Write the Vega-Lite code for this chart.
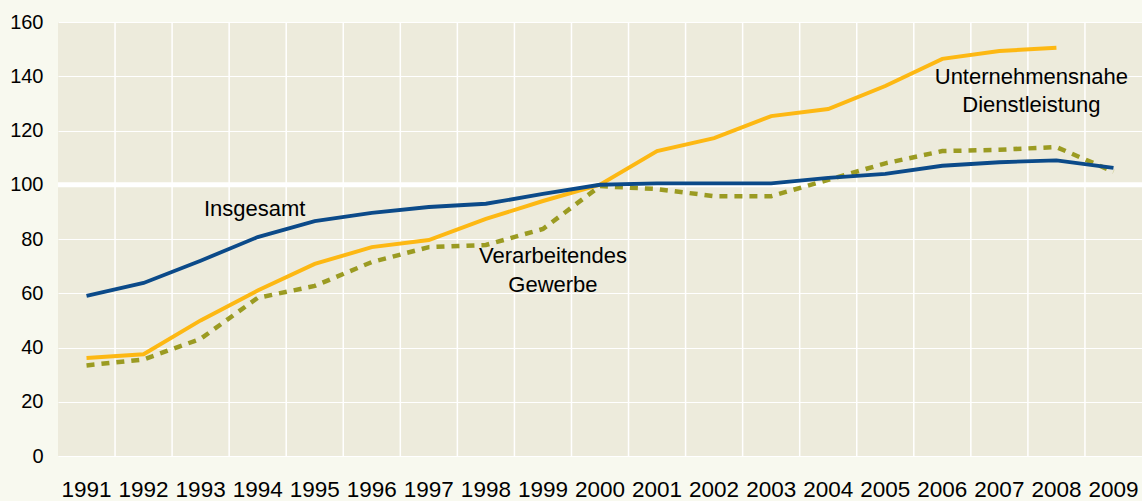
{
  "$schema": "https://vega.github.io/schema/vega-lite/v6.json",
  "width": 1084,
  "height": 434,
  "autosize": "none",
  "padding": {"left": 58, "top": 22, "right": 0, "bottom": 45},
  "background": "#f8f9ef",
  "config": {"view": {"fill": "#edebdc", "stroke": null}, "font": "Liberation Sans"},
  "datasets": {
    "series": [
      {"series": "Insgesamt", "year": 1991, "value": 59},
      {"series": "Insgesamt", "year": 1992, "value": 63.8},
      {"series": "Insgesamt", "year": 1993, "value": 72},
      {"series": "Insgesamt", "year": 1994, "value": 80.7},
      {"series": "Insgesamt", "year": 1995, "value": 86.6},
      {"series": "Insgesamt", "year": 1996, "value": 89.6},
      {"series": "Insgesamt", "year": 1997, "value": 91.8},
      {"series": "Insgesamt", "year": 1998, "value": 93},
      {"series": "Insgesamt", "year": 1999, "value": 96.6},
      {"series": "Insgesamt", "year": 2000, "value": 100},
      {"series": "Insgesamt", "year": 2001, "value": 100.5},
      {"series": "Insgesamt", "year": 2002, "value": 100.5},
      {"series": "Insgesamt", "year": 2003, "value": 100.5},
      {"series": "Insgesamt", "year": 2004, "value": 102.5},
      {"series": "Insgesamt", "year": 2005, "value": 104},
      {"series": "Insgesamt", "year": 2006, "value": 107},
      {"series": "Insgesamt", "year": 2007, "value": 108.3},
      {"series": "Insgesamt", "year": 2008, "value": 109},
      {"series": "Insgesamt", "year": 2009, "value": 106.2},
      {"series": "Unternehmensnahe Dienstleistung", "year": 1991, "value": 36.1},
      {"series": "Unternehmensnahe Dienstleistung", "year": 1992, "value": 37.5},
      {"series": "Unternehmensnahe Dienstleistung", "year": 1993, "value": 50},
      {"series": "Unternehmensnahe Dienstleistung", "year": 1994, "value": 61},
      {"series": "Unternehmensnahe Dienstleistung", "year": 1995, "value": 70.8},
      {"series": "Unternehmensnahe Dienstleistung", "year": 1996, "value": 77},
      {"series": "Unternehmensnahe Dienstleistung", "year": 1997, "value": 79.6},
      {"series": "Unternehmensnahe Dienstleistung", "year": 1998, "value": 87.4},
      {"series": "Unternehmensnahe Dienstleistung", "year": 1999, "value": 94},
      {"series": "Unternehmensnahe Dienstleistung", "year": 2000, "value": 100},
      {"series": "Unternehmensnahe Dienstleistung", "year": 2001, "value": 112.4},
      {"series": "Unternehmensnahe Dienstleistung", "year": 2002, "value": 117.2},
      {"series": "Unternehmensnahe Dienstleistung", "year": 2003, "value": 125.3},
      {"series": "Unternehmensnahe Dienstleistung", "year": 2004, "value": 127.9},
      {"series": "Unternehmensnahe Dienstleistung", "year": 2005, "value": 136.4},
      {"series": "Unternehmensnahe Dienstleistung", "year": 2006, "value": 146.4},
      {"series": "Unternehmensnahe Dienstleistung", "year": 2007, "value": 149.3},
      {"series": "Unternehmensnahe Dienstleistung", "year": 2008, "value": 150.5},
      {"series": "Verarbeitendes Gewerbe", "year": 1991, "value": 33.4},
      {"series": "Verarbeitendes Gewerbe", "year": 1992, "value": 35.6},
      {"series": "Verarbeitendes Gewerbe", "year": 1993, "value": 43.2},
      {"series": "Verarbeitendes Gewerbe", "year": 1994, "value": 58.3},
      {"series": "Verarbeitendes Gewerbe", "year": 1995, "value": 62.7},
      {"series": "Verarbeitendes Gewerbe", "year": 1996, "value": 71.5},
      {"series": "Verarbeitendes Gewerbe", "year": 1997, "value": 77},
      {"series": "Verarbeitendes Gewerbe", "year": 1998, "value": 77.8},
      {"series": "Verarbeitendes Gewerbe", "year": 1999, "value": 83.7},
      {"series": "Verarbeitendes Gewerbe", "year": 2000, "value": 99.5},
      {"series": "Verarbeitendes Gewerbe", "year": 2001, "value": 98.4},
      {"series": "Verarbeitendes Gewerbe", "year": 2002, "value": 95.8},
      {"series": "Verarbeitendes Gewerbe", "year": 2003, "value": 95.8},
      {"series": "Verarbeitendes Gewerbe", "year": 2004, "value": 101.8},
      {"series": "Verarbeitendes Gewerbe", "year": 2005, "value": 107.9},
      {"series": "Verarbeitendes Gewerbe", "year": 2006, "value": 112.4},
      {"series": "Verarbeitendes Gewerbe", "year": 2007, "value": 112.9},
      {"series": "Verarbeitendes Gewerbe", "year": 2008, "value": 113.9},
      {"series": "Verarbeitendes Gewerbe", "year": 2009, "value": 104.8}
    ],
    "labels": [
      {"group": "a", "text": "Insgesamt", "year": 1994, "value": 91},
      {"group": "b", "text": "Verarbeitendes", "year": 1999, "value": 73.7},
      {"group": "b", "text": "Gewerbe", "year": 1999, "value": 63},
      {"group": "c", "text": "Unternehmensnahe", "year": 2007, "value": 139.7},
      {"group": "c", "text": "Dienstleistung", "year": 2007, "value": 129.4}
    ],
    "ref": [{"ref": 100}]
  },
  "layer": [
    {
      "data": {"name": "series"},
      "transform": [{"filter": "datum.series === 'Insgesamt' && datum.year !== 1991"}],
      "mark": {"type": "rule", "stroke": "#ffffff", "strokeWidth": 1.5},
      "encoding": {
        "x": {
          "field": "year", "type": "ordinal", "bandPosition": 0,
          "scale": {"type": "band", "paddingInner": 0, "paddingOuter": 0},
          "axis": {"title": null, "domain": false, "ticks": false, "grid": false, "labelAngle": 0,
                   "labelFontSize": 22.5, "labelColor": "#000000", "labelPadding": 22, "labelOverlap": false}
        }
      }
    },
    {
      "data": {"name": "series"},
      "transform": [{"filter": "datum.series === 'Insgesamt'"}],
      "mark": {"type": "point", "opacity": 0},
      "encoding": {
        "x": {"field": "year", "type": "ordinal", "bandPosition": 0.5},
        "y": {
          "field": "value", "type": "quantitative",
          "scale": {"domain": [0, 160], "nice": false},
          "axis": {"title": null, "values": [0, 20, 40, 60, 80, 100, 120, 140, 160], "domain": false, "ticks": false,
                   "grid": true, "gridColor": "#ffffff", "gridWidth": 1.2, "gridOpacity": 1,
                   "labelFontSize": 20, "labelColor": "#000000", "labelPadding": 15}
        }
      }
    },
    {
      "data": {"name": "ref"},
      "mark": {"type": "rule", "stroke": "#ffffff", "strokeWidth": 5},
      "encoding": {"y": {"field": "ref", "type": "quantitative"}}
    },
    {
      "data": {"name": "series"},
      "transform": [{"filter": "datum.series === 'Verarbeitendes Gewerbe'"}],
      "mark": {"type": "line", "stroke": "#9b9b22", "strokeWidth": 4.5, "strokeDash": [8, 7]},
      "encoding": {
        "x": {"field": "year", "type": "ordinal", "bandPosition": 0.5},
        "y": {"field": "value", "type": "quantitative"}
      }
    },
    {
      "data": {"name": "series"},
      "transform": [{"filter": "datum.series === 'Unternehmensnahe Dienstleistung'"}],
      "mark": {"type": "line", "stroke": "#fdb813", "strokeWidth": 4},
      "encoding": {
        "x": {"field": "year", "type": "ordinal", "bandPosition": 0.5},
        "y": {"field": "value", "type": "quantitative"}
      }
    },
    {
      "data": {"name": "series"},
      "transform": [{"filter": "datum.series === 'Insgesamt'"}],
      "mark": {"type": "line", "stroke": "#0b4a89", "strokeWidth": 3.8},
      "encoding": {
        "x": {"field": "year", "type": "ordinal", "bandPosition": 0.5},
        "y": {"field": "value", "type": "quantitative"}
      }
    },
    {
      "data": {"name": "labels"},
      "transform": [{"filter": "datum.group === 'a'"}],
      "mark": {"type": "text", "fontSize": 22, "color": "#000000", "align": "center", "baseline": "middle", "dx": -3},
      "encoding": {
        "x": {"field": "year", "type": "ordinal", "bandPosition": 0.5},
        "y": {"field": "value", "type": "quantitative"},
        "text": {"field": "text"}
      }
    },
    {
      "data": {"name": "labels"},
      "transform": [{"filter": "datum.group === 'b'"}],
      "mark": {"type": "text", "fontSize": 22, "color": "#000000", "align": "center", "baseline": "middle", "dx": 10},
      "encoding": {
        "x": {"field": "year", "type": "ordinal", "bandPosition": 0.5},
        "y": {"field": "value", "type": "quantitative"},
        "text": {"field": "text"}
      }
    },
    {
      "data": {"name": "labels"},
      "transform": [{"filter": "datum.group === 'c'"}],
      "mark": {"type": "text", "fontSize": 22, "color": "#000000", "align": "center", "baseline": "middle", "dx": 32},
      "encoding": {
        "x": {"field": "year", "type": "ordinal", "bandPosition": 0.5},
        "y": {"field": "value", "type": "quantitative"},
        "text": {"field": "text"}
      }
    }
  ]
}
